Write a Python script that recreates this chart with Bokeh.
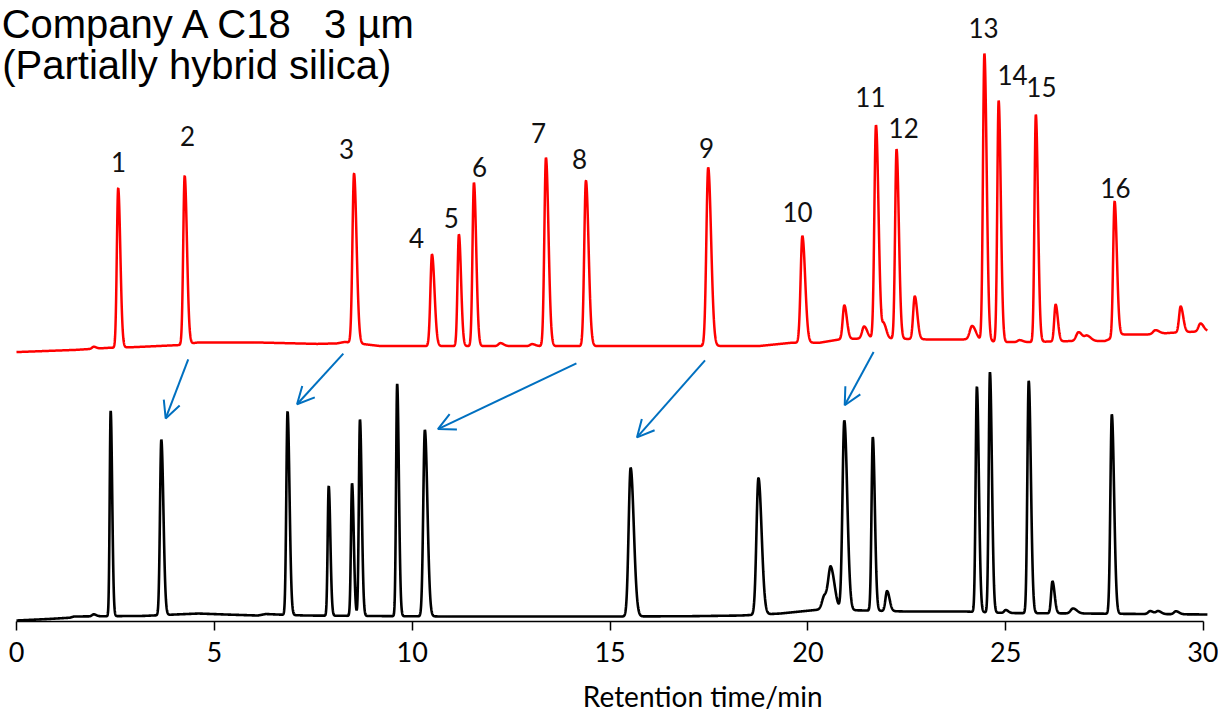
import numpy as np
from bokeh.plotting import figure
from bokeh.models import Range1d, Arrow, OpenHead, FixedTicker, ColumnDataSource
from bokeh.core.properties import value
from bokeh.embed import file_html
from bokeh.resources import INLINE

# ---------------- data ----------------
# lower (black) chromatogram: retention time (min), height above baseline, width (min)
black_rt = [1.95, 2.38, 3.66, 6.85, 7.89, 8.48, 8.68, 9.62, 10.32, 15.52, 18.75,
            20.42, 20.58, 20.92, 21.64, 22.00, 24.27, 24.60, 25.00, 25.58, 26.18,
            26.70, 27.68, 28.65, 28.85, 29.30]
black_h = [2, 206, 176, 204, 130, 133, 197, 233, 187, 149, 137,
           14, 40, 190, 174, 20, 226, 241, 3, 233, 32,
           5, 200, 3, 3, 3]
black_w = [0.04, 0.024, 0.033, 0.031, 0.026, 0.027, 0.028, 0.027, 0.040, 0.050, 0.050,
           0.060, 0.060, 0.046, 0.032, 0.040, 0.031, 0.031, 0.040, 0.034, 0.034,
           0.060, 0.036, 0.050, 0.050, 0.050]
black_base_t = [0, 0.8, 1.35, 1.45, 2.2, 3.2, 4.0, 4.6, 5.3, 6.1, 6.3, 6.6, 7.3, 9.0,
                11, 15, 17, 18.3, 19.3, 20.3, 21.5, 22.5, 24.0, 25.0, 27.0, 30.2]
black_base_y = [1, 2.5, 3.8, 5.0, 5.3, 5.6, 7.0, 8.0, 7.0, 6.0, 7.5, 7.0, 6.0, 5.5,
                5.0, 5.0, 5.3, 6.0, 8.0, 12.0, 11.0, 10.0, 10.0, 8.5, 8.0, 7.0]

# upper (red) chromatogram, drawn with an offset
red_rt = [1.95, 2.57, 4.25, 8.53, 10.50, 11.18, 11.56, 12.23, 13.03, 13.38, 14.39,
          17.48, 19.86, 20.92, 21.42, 21.72, 21.92, 22.24, 22.70, 24.15, 24.46,
          24.82, 25.35, 25.76, 26.26, 26.84, 27.06, 27.75, 28.78, 29.42, 29.92]
red_h = [2, 160, 169, 170, 92, 112, 164, 3, 2, 189, 166,
         179, 107, 34, 12, 214, 14, 190, 43, 14, 288,
         242, 2, 228, 37, 9, 5, 136, 4, 26, 8]
red_w = [0.04, 0.034, 0.036, 0.040, 0.040, 0.034, 0.036, 0.05, 0.05, 0.040, 0.042,
         0.046, 0.044, 0.040, 0.050, 0.040, 0.040, 0.036, 0.040, 0.060, 0.036,
         0.034, 0.05, 0.034, 0.035, 0.06, 0.06, 0.036, 0.06, 0.040, 0.050]
red_base_t = [0, 1.5, 2.3, 3.0, 4.1, 4.6, 6.0, 7.6, 8.1, 8.3, 9.2, 12, 16, 18.8,
              19.6, 20.3, 20.8, 21.4, 22.0, 23.0, 24.0, 24.9, 25.5, 26.6, 27.5,
              27.9, 28.7, 29.2, 30.2]
red_base_y = [270.3, 272.5, 274.5, 275.3, 277.3, 280.0, 280.0, 278.5, 279.0, 280.5,
              276.3, 276.3, 276.3, 276.5, 279.7, 279.7, 283.0, 284.0, 284.0, 283.0,
              283.0, 280.3, 280.3, 281.3, 281.3, 288.0, 288.0, 289.7, 291.5]

# peak numbers on the red trace
label_text = [str(i) for i in range(1, 17)]
label_t = [2.58, 4.32, 8.34, 10.11, 10.99, 11.70, 13.19, 14.23, 17.44, 19.74,
           21.58, 22.42, 24.44, 25.17, 25.90, 27.77]
label_y = [461, 487, 474, 385, 405, 456, 490, 464, 475, 411,
           526, 495, 595, 548, 536, 435]

# blue arrows (red peak -> black peak)
arrow_t0 = [4.34, 8.26, 14.15, 17.40, 21.66]
arrow_y0 = [263.0, 268.7, 259.0, 262.0, 270.3]
arrow_t1 = [3.77, 7.09, 10.65, 15.68, 20.93]
arrow_y1 = [203.7, 218.0, 193.0, 184.7, 217.0]

tick_values = [0, 5, 10, 15, 20, 25, 30]
title_lines = ["Company A C18\u00a0\u00a0\u00a03 \u00b5m", "(Partially hybrid silica)"]
title_t = [-0.375, -0.36]
title_y = [599.5, 558.0]
x_label = "Retention time/min"

# ---------------- build traces from the peak table ----------------
t = np.arange(0.0, 30.1, 0.004)


def chromatogram(rts, hs, ws, bt, by, tail=1.6):
    y = np.interp(t, bt, by)
    for r, h, w in zip(rts, hs, ws):
        s = np.where(t < r, w, w * tail)
        y = y + h * np.exp(-0.5 * ((t - r) / s) ** 2)
    return y


black_y = chromatogram(black_rt, black_h, black_w, black_base_t, black_base_y)
red_y = chromatogram(red_rt, red_h, red_w, red_base_t, red_base_y)

# ---------------- figure ----------------
p = figure(width=1218, height=715, x_range=Range1d(-0.404, 30.376),
           y_range=Range1d(0, 623), output_backend="svg", toolbar_location=None,
           min_border_left=0, min_border_right=0, min_border_top=0,
           min_border_bottom=92, y_axis_location=None)
p.outline_line_color = None
p.grid.visible = False
p.background_fill_color = "white"
p.border_fill_color = "white"

p.line(t, black_y, line_color="#000000", line_width=2.6)
p.line(t, red_y, line_color="#FF0000", line_width=2.5)

p.text(x=label_t, y=label_y, text=label_text, text_font=value("Lato"),
       text_font_size="26px", text_align="center", text_baseline="middle",
       text_color="#111111")

p.text(x=title_t, y=title_y, text=title_lines, text_font=value("Liberation Sans"),
       text_font_size="40px", text_align="left", text_baseline="middle",
       text_color="#000000")

blue = "#0070C0"
asrc = ColumnDataSource(dict(x0=arrow_t0, y0=arrow_y0, x1=arrow_t1, y1=arrow_y1))
p.add_layout(Arrow(end=OpenHead(size=17, line_color=blue, line_width=2),
                   x_start="x0", y_start="y0", x_end="x1", y_end="y1",
                   source=asrc, line_color=blue, line_width=2))

ax = p.xaxis[0]
ax.ticker = FixedTicker(ticks=tick_values)
ax.bounds = (0, 30)
ax.minor_tick_line_color = None
ax.major_tick_in = 0
ax.major_tick_out = 9
ax.major_tick_line_width = 1.5
ax.axis_line_width = 1.5
ax.axis_line_color = "black"
ax.major_tick_line_color = "black"
ax.major_label_text_font = "Lato"
ax.major_label_text_font_size = "27px"
ax.major_label_text_color = "black"
ax.major_label_text_line_height = 1.0
ax.major_label_standoff = 11
# the reference places its axis title right of centre: pad it on the left
ax.axis_label = "\u00a0" * 26 + x_label
ax.axis_label_text_font = "Lato"
ax.axis_label_text_font_size = "28px"
ax.axis_label_text_font_style = "normal"
ax.axis_label_text_color = "black"
ax.axis_label_text_line_height = 1.0
ax.axis_label_standoff = 14

open("out.html", "w").write(file_html(p, INLINE))
